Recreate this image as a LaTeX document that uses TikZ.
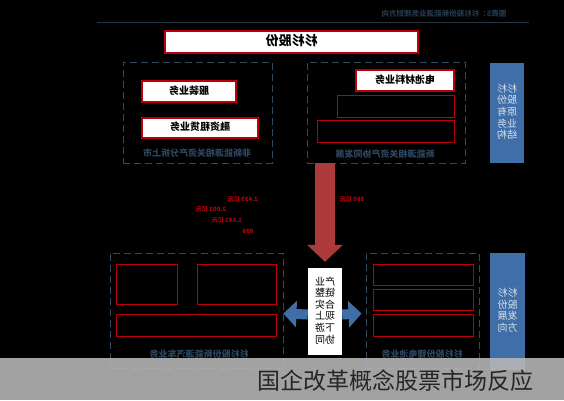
\documentclass[tikz,border=0pt]{standalone}
\usepackage{graphicx}
\usepackage{fontspec}
\setmainfont{Noto Sans CJK SC}
\usetikzlibrary{arrows.meta}
\definecolor{boxred}{RGB}{185,0,10}
\definecolor{arrred}{RGB}{172,58,58}
\definecolor{steel}{RGB}{64,110,168}
\definecolor{dimline}{RGB}{52,74,92}
\definecolor{dimtext}{RGB}{44,70,96}
% mirrored text, rows split by \\
\newcommand{\mirtxt}[1]{\reflectbox{\renewcommand{\arraystretch}{0.92}\begin{tabular}{@{}c@{}}#1\end{tabular}}}

\begin{document}
\begin{tikzpicture}[x=1pt, y=-1pt,
    whitebox/.style={draw=boxred, fill=white, line width=1.2pt, inner sep=0pt, font=\fontsize{10}{12}\selectfont\bfseries},
    redbox/.style={draw=boxred, line width=0.8pt, inner sep=0pt},
    dashbox/.style={draw=dimline, dashed, dash pattern=on 7pt off 4pt, line width=0.9pt, inner sep=0pt},
    bluebox/.style={fill=steel, inner sep=0pt, text=white!80!steel, font=\fontsize{10}{12}\selectfont},
    grplabel/.style={text=dimtext, font=\fontsize{9}{10}\selectfont\bfseries},
    sumlabel/.style={text=boxred, font=\fontsize{6}{7}\selectfont\bfseries}]
\useasboundingbox (0,0) rectangle (564,400);
\clip (0,0) rectangle (564,400);
\fill[black] (0,0) rectangle (564,400);

% header
\node[text=dimtext!80!black, font=\fontsize{7.5}{8}\selectfont\bfseries] (title) at (444,14) {\mirtxt{图表5：杉杉股份新能源业务规划方向}};
\draw[dimline!70!black, line width=1pt] (97,22) -- (529,22);

% top row
\node[whitebox, minimum width=253, minimum height=22, font=\fontsize{13}{14}\selectfont\bfseries] (top) at (291.5,42) {\mirtxt{杉杉股份}};

\node[dashbox, minimum width=149, minimum height=101] (lt) at (197.5,112.5) {};
\node[whitebox, minimum width=94, minimum height=21] (cloth) at (189,91.5) {\mirtxt{服装业务}};
\node[whitebox, minimum width=116, minimum height=20] (lease) at (200,128) {\mirtxt{融资租赁业务}};
\node[grplabel] (ltlab) at (197,154) {\mirtxt{非新能源相关资产分拆上市}};

\node[dashbox, minimum width=158, minimum height=101] (rt) at (386,112.5) {};
\node[whitebox, minimum width=98, minimum height=21] (battery) at (405,80.5) {\mirtxt{电池材料业务}};
\node[redbox, minimum width=117, minimum height=22] (rta) at (395.5,106) {};
\node[redbox, minimum width=137, minimum height=22] (rtb) at (385.5,131) {};
\node[grplabel] (rtlab) at (385,155) {\mirtxt{新能源相关资产协同发展}};

\node[bluebox, minimum width=34, minimum height=100] (oldside) at (507,113) {\mirtxt{杉杉\\股份\\原有\\业务\\结构}};

% amounts
\node[sumlabel] (s1) at (243,200) {\mirtxt{2.439 亿元}};
\node[sumlabel] (s2) at (211,210) {\mirtxt{2.003 亿元}};
\node[sumlabel] (s3) at (227,221) {\mirtxt{1.541 亿元}};
\node[sumlabel] (s4) at (248,232) {\mirtxt{898}};
\node[sumlabel] (s5) at (352,200) {\mirtxt{880 亿元}};

% bottom row
\node[dashbox, minimum width=173, minimum height=115] (lb) at (196.5,310.5) {};
\node[redbox, minimum width=61, minimum height=40] (lba) at (146.5,284) {};
\node[redbox, minimum width=79, minimum height=40] (lbb) at (236.5,284) {};
\node[redbox, minimum width=160, minimum height=22] (lbc) at (196,325) {};
\node[grplabel] (lblab) at (199,355) {\mirtxt{杉杉股份新能源汽车业务}};

\node[fill=white, minimum width=34, minimum height=87, inner sep=0pt, font=\fontsize{10}{11.5}\selectfont] (chain) at (325,311.5) {\mirtxt{产业\\链整\\合实\\现上\\下游\\协同}};

\node[dashbox, minimum width=113, minimum height=115] (rb) at (422.5,310.5) {};
\node[redbox, minimum width=100, minimum height=21] (rba) at (423,274.5) {};
\node[redbox, minimum width=100, minimum height=21] (rbb) at (423,299.5) {};
\node[redbox, minimum width=100, minimum height=22] (rbc) at (423,325) {};
\node[grplabel] (rblab) at (422,355) {\mirtxt{杉杉股份锂电池业务}};

\node[bluebox, minimum width=35, minimum height=117] (newside) at (507.5,311.5) {\mirtxt{杉杉\\股份\\发展\\方向}};

% connectors
\draw[arrred, line width=20pt, shorten >=6pt, -{Triangle[length=17pt, width=35pt]}] (rt.south -| chain) -- (chain.north);
\draw[steel, line width=10pt, -{Triangle[length=13pt, width=26pt]}] ([yshift=-3pt]chain.west) -- ([yshift=-3pt]lb.east);
\draw[steel, line width=10pt, -{Triangle[length=13pt, width=26pt]}] ([yshift=-3pt]chain.east) -- ([xshift=-4pt, yshift=-3pt]rb.west);

% banner
\fill[gray!55, opacity=0.88] (0,358) rectangle (564,400);
\node[anchor=west, text=black!85, font=\fontsize{23}{24}\selectfont] (banner) at (254,381) {国企改革概念股票市场反应};
\end{tikzpicture}
\end{document}
